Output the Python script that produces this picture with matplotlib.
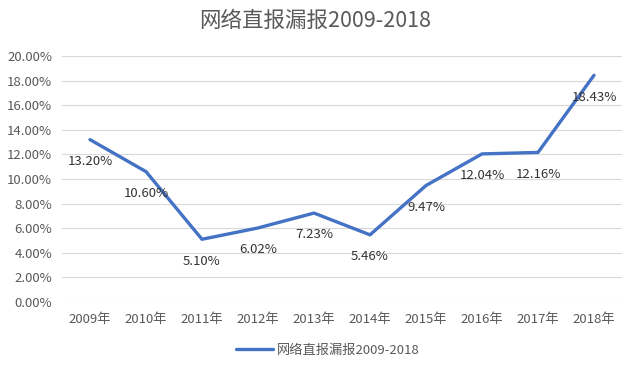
import matplotlib
matplotlib.use("Agg")
import matplotlib.pyplot as plt

plt.rcParams['font.family'] = ['Noto Sans CJK SC', 'DejaVu Sans']

years = ["2009年", "2010年", "2011年", "2012年", "2013年",
         "2014年", "2015年", "2016年", "2017年", "2018年"]
rates = [13.20, 10.60, 5.10, 6.02, 7.23, 5.46, 9.47, 12.04, 12.16, 18.43]
title = "网络直报漏报2009-2018"

fig = plt.figure(figsize=(6.3, 3.74), dpi=100)
ax = fig.add_axes([62 / 630, 1 - 302 / 374, 560 / 630, 246 / 374])

x = list(range(len(years)))
ax.plot(x, rates, color="#4472C4", linewidth=2.4, label=title,
        solid_joinstyle="round", solid_capstyle="round")

for xi, v in zip(x, rates):
    ax.annotate(f"{v:.2f}%", (xi, v), xytext=(0, -11), textcoords="offset points",
                ha="center", va="top", fontsize=9.5, color="#333333",
                fontweight="medium")

ax.set_xlim(-0.5, len(years) - 0.5)
ax.set_ylim(0, 20)
ax.set_yticks([i * 2 for i in range(11)])
ax.set_yticklabels([f"{i * 2:.2f}%" for i in range(11)])
ax.set_xticks(x)
ax.set_xticklabels(years)
ax.tick_params(axis="both", length=0, labelsize=9.5, labelcolor="#595959")
ax.tick_params(axis="x", pad=8)
ax.tick_params(axis="y", pad=7)
ax.grid(axis="y", color="#d9d9d9", linewidth=0.8)
ax.set_axisbelow(True)
for s in ax.spines.values():
    s.set_visible(False)

fig.text(0.5, 1 - 21 / 374, title, ha="center", va="center",
         fontsize=15.5, color="#595959")
fig.legend(loc="center", bbox_to_anchor=(0.52, 1 - 350 / 374), frameon=False,
           fontsize=9.5, labelcolor="#595959", handlelength=2.8, handletextpad=0.3)

fig.savefig("out.png", dpi=100)
